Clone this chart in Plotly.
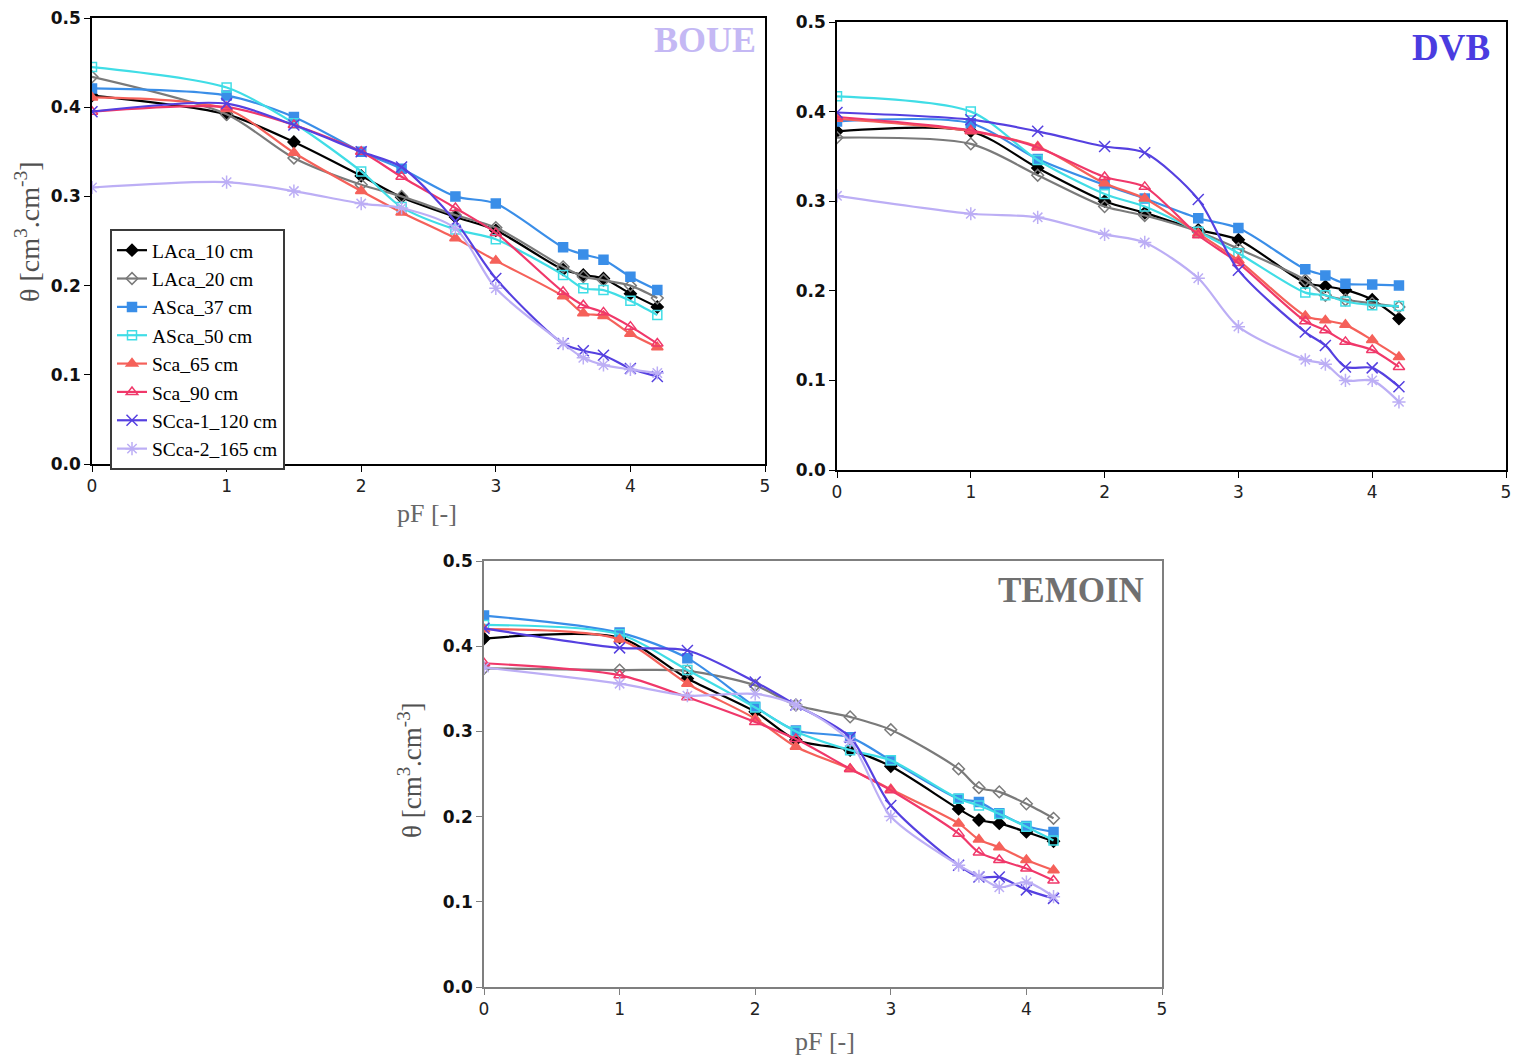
import plotly.graph_objects as go

OFF = 8  # default page body margin
W, H = 1523 - OFF, 1055 - OFF

pF = [0, 1, 1.5, 2, 2.3, 2.7, 3, 3.5, 3.65, 3.8, 4, 4.2]
series_names = ["LAca_10 cm", "LAca_20 cm", "ASca_37 cm", "ASca_50 cm",
                "Sca_65 cm", "Sca_90 cm", "SCca-1_120 cm", "SCca-2_165 cm"]

# BOUE panel
boue_laca10 = [0.413, 0.392, 0.361, 0.323, 0.299, 0.277, 0.262, 0.218, 0.212, 0.208, 0.191, 0.176]
boue_laca20 = [0.434, 0.392, 0.343, 0.313, 0.300, 0.279, 0.265, 0.221, 0.210, 0.206, 0.200, 0.186]
boue_asca37 = [0.421, 0.413, 0.389, 0.350, 0.331, 0.300, 0.292, 0.243, 0.235, 0.229, 0.210, 0.195]
boue_asca50 = [0.445, 0.422, 0.382, 0.328, 0.288, 0.263, 0.252, 0.212, 0.197, 0.195, 0.183, 0.167]
boue_sca65 = [0.411, 0.398, 0.349, 0.306, 0.282, 0.253, 0.228, 0.188, 0.169, 0.166, 0.146, 0.131]
boue_sca90 = [0.395, 0.400, 0.380, 0.350, 0.322, 0.287, 0.259, 0.193, 0.178, 0.170, 0.154, 0.135]
boue_scca1 = [0.395, 0.404, 0.380, 0.350, 0.333, 0.272, 0.208, 0.135, 0.127, 0.122, 0.107, 0.098]
boue_scca2 = [0.310, 0.316, 0.306, 0.292, 0.287, 0.264, 0.197, 0.135, 0.119, 0.111, 0.106, 0.102]

# DVB panel
dvb_laca10 = [0.378, 0.378, 0.337, 0.300, 0.287, 0.268, 0.257, 0.209, 0.205, 0.201, 0.190, 0.169]
dvb_laca20 = [0.371, 0.364, 0.329, 0.294, 0.284, 0.266, 0.247, 0.212, 0.195, 0.190, 0.186, 0.182]
dvb_asca37 = [0.389, 0.387, 0.347, 0.318, 0.303, 0.281, 0.270, 0.224, 0.217, 0.208, 0.207, 0.206]
dvb_asca50 = [0.417, 0.400, 0.346, 0.308, 0.294, 0.266, 0.242, 0.198, 0.195, 0.188, 0.184, 0.183]
dvb_sca65 = [0.392, 0.378, 0.361, 0.320, 0.303, 0.264, 0.234, 0.172, 0.167, 0.162, 0.145, 0.126]
dvb_sca90 = [0.394, 0.379, 0.360, 0.327, 0.316, 0.262, 0.231, 0.166, 0.156, 0.143, 0.134, 0.115]
dvb_scca1 = [0.399, 0.391, 0.378, 0.361, 0.354, 0.302, 0.223, 0.154, 0.139, 0.115, 0.114, 0.093]
dvb_scca2 = [0.306, 0.286, 0.282, 0.263, 0.254, 0.214, 0.160, 0.123, 0.118, 0.100, 0.100, 0.076]

# TEMOIN panel
tem_laca10 = [0.409, 0.410, 0.362, 0.323, 0.290, 0.278, 0.259, 0.209, 0.196, 0.192, 0.182, 0.171]
tem_laca20 = [0.374, 0.372, 0.371, 0.354, 0.331, 0.317, 0.302, 0.256, 0.234, 0.229, 0.215, 0.198]
tem_asca37 = [0.436, 0.416, 0.386, 0.329, 0.301, 0.293, 0.266, 0.221, 0.217, 0.204, 0.189, 0.182]
tem_asca50 = [0.425, 0.414, 0.372, 0.328, 0.300, 0.278, 0.266, 0.221, 0.213, 0.203, 0.188, 0.172]
tem_sca65 = [0.420, 0.408, 0.356, 0.315, 0.282, 0.256, 0.232, 0.192, 0.173, 0.164, 0.149, 0.137]
tem_sca90 = [0.380, 0.366, 0.340, 0.311, 0.291, 0.256, 0.231, 0.180, 0.158, 0.149, 0.139, 0.125]
tem_scca1 = [0.421, 0.398, 0.395, 0.358, 0.331, 0.293, 0.213, 0.143, 0.129, 0.129, 0.114, 0.104]
tem_scca2 = [0.375, 0.356, 0.342, 0.344, 0.331, 0.288, 0.200, 0.143, 0.130, 0.117, 0.123, 0.106]

x_ticks = [0, 1, 2, 3, 4, 5]
y_ticks = [0.0, 0.1, 0.2, 0.3, 0.4, 0.5]

panels = [
    ("BOUE", [boue_laca10, boue_laca20, boue_asca37, boue_asca50,
              boue_sca65, boue_sca90, boue_scca1, boue_scca2]),
    ("DVB", [dvb_laca10, dvb_laca20, dvb_asca37, dvb_asca50,
             dvb_sca65, dvb_sca90, dvb_scca1, dvb_scca2]),
    ("TEMOIN", [tem_laca10, tem_laca20, tem_asca37, tem_asca50,
                tem_sca65, tem_sca90, tem_scca1, tem_scca2]),
]

colors = ["#000000", "#7a7a7a", "#3a8ee8", "#40dde6",
          "#f5615a", "#f0386a", "#5540e0", "#bcaef5"]
symbols = ["diamond", "diamond-open", "square", "square-open",
           "triangle-up", "triangle-up-open", "x-thin-open", "asterisk-open"]
msizes = [9, 9, 9, 9, 10, 10, 11, 11]

fig = go.Figure()
for p, (pname, data) in enumerate(panels):
    ax = "" if p == 0 else str(p + 1)
    for i, ys in enumerate(data):
        fig.add_trace(go.Scatter(
            x=pF, y=ys, name=series_names[i], mode="lines+markers",
            xaxis="x" + ax, yaxis="y" + ax,
            line=dict(color=colors[i], width=2.2, shape="spline", smoothing=0.8),
            marker=dict(symbol=symbols[i], size=msizes[i], color=colors[i],
                        line=dict(color=colors[i], width=1.5)),
            showlegend=(p == 0), legendgroup=series_names[i],
        ))

def px_x(v):
    return (v - OFF) / W

def px_y(v):
    return 1 - (v - OFF) / H

domains = [
    ((92, 765), (18, 464)),
    ((837, 1506), (22, 470)),
    ((484, 1162), (561, 987)),
]
line_cols = ["#000000", "#000000", "#7f7f7f"]

layout = dict(
    width=W, height=H,
    margin=dict(l=0, r=0, t=0, b=0, autoexpand=False),
    paper_bgcolor="white", plot_bgcolor="white",
    legend=dict(
        x=px_x(110), y=px_y(229), xanchor="left", yanchor="top",
        bordercolor="#3a3a3a", borderwidth=2, bgcolor="white",
        font=dict(family="Liberation Serif", size=19.5, color="#000000"),
        tracegroupgap=0, itemwidth=30,
    ),
)
for p, ((x0, x1), (y0, y1)) in enumerate(domains):
    ax = "" if p == 0 else str(p + 1)
    layout["xaxis" + ax] = dict(
        domain=[px_x(x0), px_x(x1)], range=[0, 5], anchor="y" + ax,
        tickvals=x_ticks, ticks="outside", ticklen=6, tickcolor=line_cols[p],
        showline=True, linecolor=line_cols[p], linewidth=1.5, mirror=True,
        showgrid=False, zeroline=False, automargin=False,
        ticklabeloverflow="allow",
        tickfont=dict(family="DejaVu Sans", size=17, color="#222222"),
    )
    layout["yaxis" + ax] = dict(
        domain=[px_y(y1), px_y(y0)], range=[0, 0.5], anchor="x" + ax,
        tickvals=y_ticks, tickformat=".1f", ticks="outside", ticklen=6,
        tickcolor=line_cols[p],
        showline=True, linecolor=line_cols[p], linewidth=1.5, mirror=True,
        showgrid=False, zeroline=False, automargin=False,
        ticklabeloverflow="allow",
        tickfont=dict(family="DejaVu Sans", size=17, color="#111111", weight="bold"),
    )

annotations = [
    dict(text="<b>BOUE</b>", x=px_x(758), y=px_y(40), xanchor="right", yanchor="middle",
         font=dict(family="Liberation Serif", size=36, color="#c4b8f4")),
    dict(text="<b>DVB</b>", x=px_x(1492), y=px_y(48), xanchor="right", yanchor="middle",
         font=dict(family="Liberation Serif", size=37, color="#4a3ce0")),
    dict(text="<b>TEMOIN</b>", x=px_x(1146), y=px_y(590), xanchor="right", yanchor="middle",
         font=dict(family="Liberation Serif", size=35, color="#707070")),
    dict(text="θ [cm<sup>3</sup>.cm<sup>-3</sup>]", x=px_x(28), y=px_y(232), textangle=-90,
         xanchor="center", yanchor="middle",
         font=dict(family="Liberation Serif", size=28, color="#505050")),
    dict(text="θ [cm<sup>3</sup>.cm<sup>-3</sup>]", x=px_x(410), y=px_y(770), textangle=-90,
         xanchor="center", yanchor="middle",
         font=dict(family="Liberation Serif", size=27, color="#505050")),
    dict(text="pF [-]", x=px_x(427), y=px_y(513), xanchor="center", yanchor="middle",
         font=dict(family="Liberation Serif", size=26, color="#666666")),
    dict(text="pF [-]", x=px_x(825), y=px_y(1041), xanchor="center", yanchor="middle",
         font=dict(family="Liberation Serif", size=26, color="#666666")),
]
for a in annotations:
    a.update(xref="paper", yref="paper", showarrow=False)
layout["annotations"] = annotations

fig.update_layout(**layout)
fig.write_html("out.html")
